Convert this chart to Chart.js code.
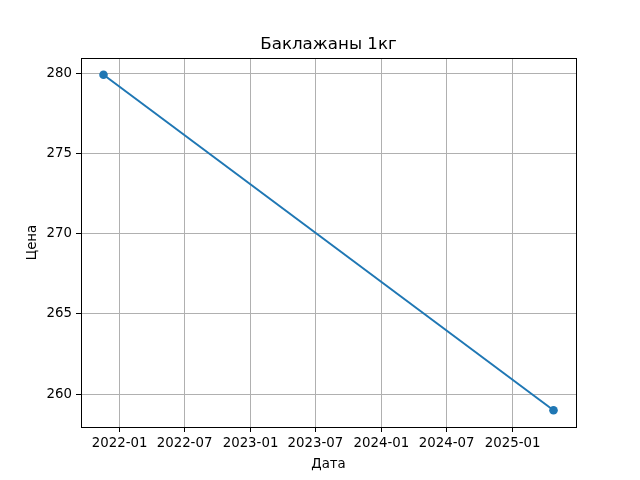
<!DOCTYPE html>
<html>
<head>
<meta charset="utf-8">
<script src="https://cdn.jsdelivr.net/npm/chart.js@4/dist/chart.umd.min.js"></script>
<style>
  html, body { margin: 0; padding: 0; background: #fff; }
  #wrap { width: 640px; height: 480px; }
</style>
</head>
<body>
<div id="wrap"><canvas id="c" width="640" height="480"></canvas></div>
<script>
// ---- data ----
const dates = ['2021-11-17', '2025-04-25'];
const prices = [279.9, 259.0];
const xTickLabels = ['2022-01', '2022-07', '2023-01', '2023-07', '2024-01', '2024-07', '2025-01'];
const yTickValues = [260, 265, 270, 275, 280];
const chartTitle = 'Баклажаны 1кг';
const xTitle = 'Дата';
const yTitle = 'Цена';

function toMs(s) {
  const p = s.split('-').map(Number);
  return Date.UTC(p[0], p[1] - 1, p[2] || 1);
}
const xs = dates.map(toMs);
const points = xs.map((x, i) => ({ x: x, y: prices[i] }));
const xTickValues = xTickLabels.map(toMs);

function padRange(arr) {
  const mn = Math.min(...arr), mx = Math.max(...arr);
  const m = (mx - mn) * 0.05;
  return [mn - m, mx + m];
}
const [xMin, xMax] = padRange(xs);
const [yMin, yMax] = padRange(prices);

const FONT = 'DejaVu Sans';

const frame = {
  id: 'frame',
  afterDatasetsDraw(chart) {
    const a = chart.chartArea, ctx = chart.ctx;
    ctx.save();
    ctx.strokeStyle = '#000';
    ctx.lineWidth = 1;
    ctx.strokeRect(Math.round(a.left) + 0.5, Math.round(a.top) + 0.5, Math.round(a.right - a.left), Math.round(a.bottom - a.top));
    ctx.restore();
  },
  afterDraw(chart) {
    const a = chart.chartArea, ctx = chart.ctx;
    ctx.save();
    ctx.fillStyle = '#000';
    ctx.font = '16.67px "' + FONT + '"';
    ctx.textAlign = 'center';
    ctx.textBaseline = 'alphabetic';
    ctx.fillText(chartTitle, (a.left + a.right) / 2, a.top - 9);
    ctx.restore();
  }
};

new Chart(document.getElementById('c'), {
  type: 'line',
  data: {
    datasets: [{
      data: points,
      borderColor: '#1f77b4',
      backgroundColor: '#1f77b4',
      borderWidth: 2,
      pointRadius: 4.3,
      pointHoverRadius: 4.3,
      pointBorderWidth: 0,
      tension: 0,
      fill: false
    }]
  },
  options: {
    responsive: false,
    animation: false,
    devicePixelRatio: 1,
    layout: { padding: { left: 0, right: 64, top: 58, bottom: 0 } },
    plugins: {
      legend: { display: false },
      tooltip: { enabled: false },
      title: { display: false }
    },
    scales: {
      x: {
        type: 'linear',
        min: xMin,
        max: xMax,
        afterBuildTicks(scale) { scale.ticks = xTickValues.map(v => ({ value: v })); },
        afterFit(scale) { scale.height = 53; },
        ticks: {
          color: '#000',
          font: { family: FONT, size: 13.33 },
          padding: 4,
          maxRotation: 0,
          autoSkip: false,
          callback(v) { const i = xTickValues.indexOf(v); return i >= 0 ? xTickLabels[i] : ''; }
        },
        grid: { color: '#b0b0b0', lineWidth: 1, tickColor: '#000', tickLength: 5, drawTicks: true },
        border: { display: true, color: '#000', width: 1 },
        title: {
          display: true,
          text: xTitle,
          color: '#000',
          font: { family: FONT, size: 13.33 },
          padding: { top: 0, bottom: 7 }
        }
      },
      y: {
        type: 'linear',
        min: yMin,
        max: yMax,
        afterBuildTicks(scale) { scale.ticks = yTickValues.map(v => ({ value: v })); },
        afterFit(scale) { scale.width = 81; },
        ticks: {
          color: '#000',
          font: { family: FONT, size: 13.33 },
          padding: 4,
          autoSkip: false
        },
        grid: { color: '#b0b0b0', lineWidth: 1, tickColor: '#000', tickLength: 5, drawTicks: true },
        border: { display: true, color: '#000', width: 1 },
        title: {
          display: true,
          text: yTitle,
          color: '#000',
          font: { family: FONT, size: 13.33 },
          padding: { top: 25, bottom: 0 }
        }
      }
    }
  },
  plugins: [frame]
});
</script>
</body>
</html>
